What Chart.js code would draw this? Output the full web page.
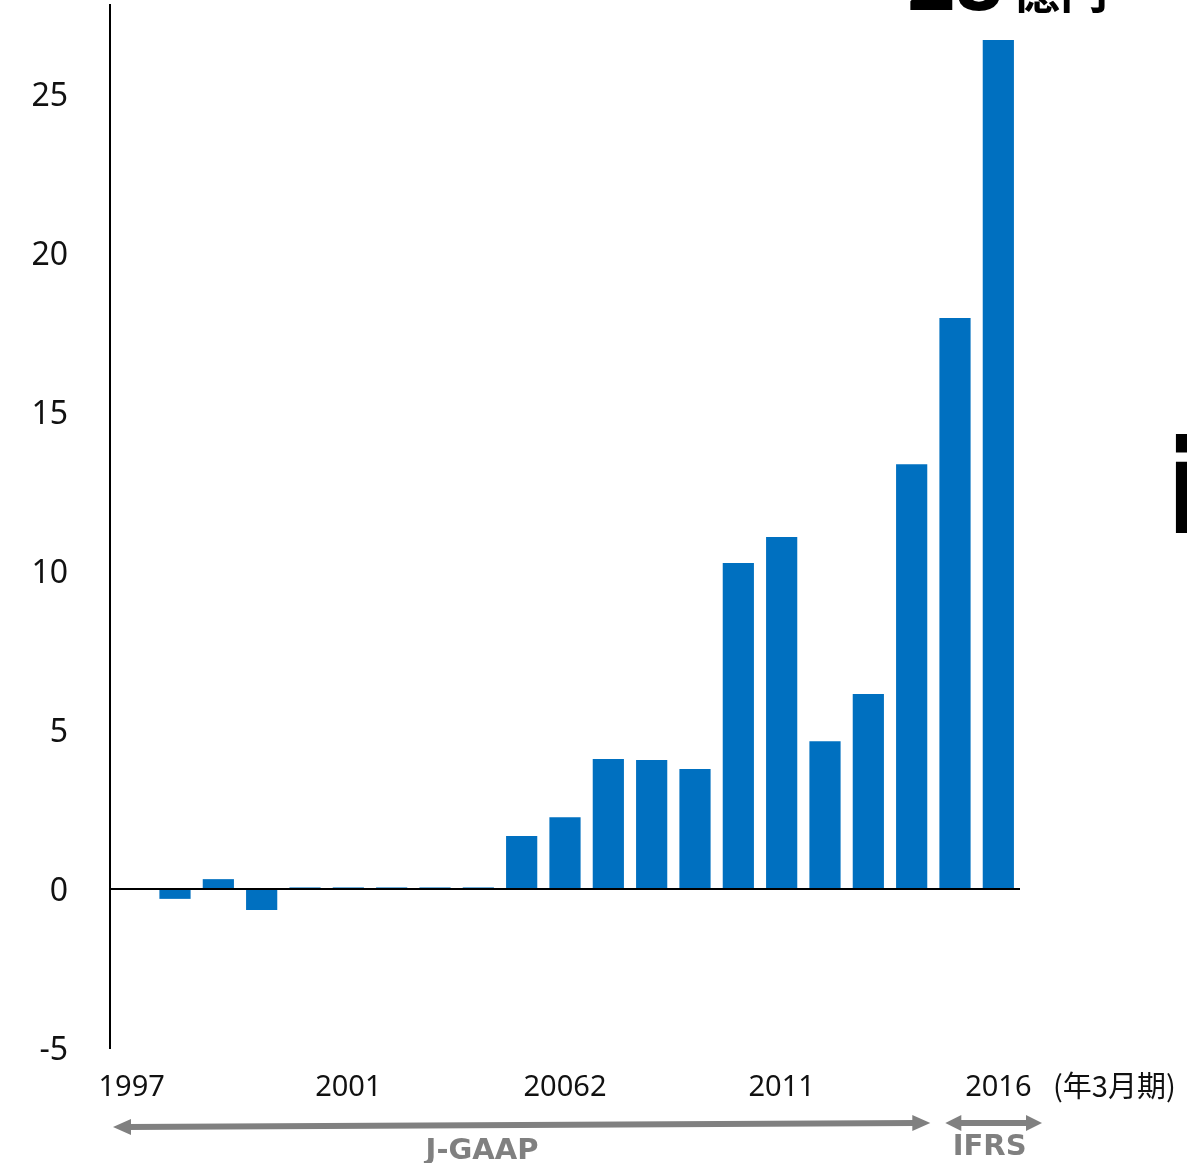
<!DOCTYPE html>
<html>
<head>
<meta charset="utf-8">
<script src="https://cdn.jsdelivr.net/npm/chart.js@4/dist/chart.umd.min.js"></script>
<style>
html,body{margin:0;padding:0;background:#fff;}
#wrap{width:1187px;height:1163px;position:relative;overflow:hidden;}
</style>
</head>
<body>
<div id="wrap"><canvas id="c" width="1187" height="1163"></canvas></div>
<script>
// ---- data ----
const categories = ["1997","","","","","2001","","","","","20062","","","","","2011","","","","","2016"];
const profit = [0, -0.31, 0.31, -0.66, 0.05, 0.05, 0.05, 0.05, 0.05, 1.67, 2.26, 4.09, 4.06, 3.77, 10.25, 11.07, 4.65, 6.13, 13.36, 17.96, 26.7];
const yMin = -5;
const yMax = 27.8;
const yStep = 5;
const unitLabel = "(年3月期)";
const periodLabels = ["J-GAAP", "IFRS"];
const headline = ["28", "億円"];

const BLUE = "#0070C0";
const GREY = "#808080";

function arrowHead(ctx, x, y, dir, len, half) {
  ctx.beginPath();
  ctx.moveTo(x, y);
  ctx.lineTo(x - dir * len, y - half);
  ctx.lineTo(x - dir * len, y + half);
  ctx.closePath();
  ctx.fill();
}

const annot = {
  id: 'annot',
  afterDraw(chart) {
    const ctx = chart.ctx;
    const xs = chart.scales.x;
    const half = (xs.getPixelForValue(1) - xs.getPixelForValue(0)) / 2;
    ctx.save();
    // unit label
    ctx.fillStyle = "#111";
    ctx.font = "29px 'Noto Sans CJK JP'";
    ctx.textBaseline = "middle";
    ctx.textAlign = "left";
    ctx.fillText(unitLabel, xs.right + 33, 1086);

    // J-GAAP arrow
    ctx.strokeStyle = GREY;
    ctx.fillStyle = GREY;
    ctx.lineWidth = 6;
    const jx1 = xs.getPixelForValue(0) - half + 3;
    const jx2 = xs.getPixelForValue(18) + half - 3;
    ctx.beginPath();
    ctx.moveTo(jx1 + 14, 1127);
    ctx.lineTo(jx2 - 14, 1123);
    ctx.stroke();
    arrowHead(ctx, jx1, 1127, -1, 18, 8);
    arrowHead(ctx, jx2, 1123, 1, 18, 8);
    // IFRS arrow
    const ix1 = xs.getPixelForValue(19) - half + 12;
    const ix2 = xs.getPixelForValue(20) + half + 22;
    ctx.beginPath();
    ctx.moveTo(ix1 + 14, 1123);
    ctx.lineTo(ix2 - 14, 1123);
    ctx.stroke();
    arrowHead(ctx, ix1, 1123, -1, 16, 8);
    arrowHead(ctx, ix2, 1123, 1, 16, 8);

    ctx.font = "bold 29px 'DejaVu Sans'";
    ctx.textAlign = "center";
    ctx.fillText(periodLabels[0], 482, 1151);
    ctx.fillText(periodLabels[1], (ix1 + ix2) / 2 - 4, 1147);

    // headline (clipped at top)
    ctx.fillStyle = "#000";
    ctx.strokeStyle = "#fff";
    ctx.lineJoin = "round";
    ctx.lineWidth = 8;
    ctx.textAlign = "left";
    ctx.textBaseline = "alphabetic";
    ctx.font = "bold 84px 'Noto Sans'";
    ctx.strokeText(headline[0], 907, 10);
    ctx.fillText(headline[0], 907, 10);
    ctx.font = "bold 48px 'Noto Sans CJK JP'";
    ctx.strokeText(headline[1], 1012, 8);
    ctx.fillText(headline[1], 1012, 8);

    // partially visible glyph at right edge
    ctx.font = "bold 130px 'DejaVu Sans'";
    ctx.strokeText("i", 1165, 533);
    ctx.fillText("i", 1165, 533);
    ctx.restore();
  }
};

new Chart(document.getElementById('c'), {
  type: 'bar',
  data: {
    labels: categories,
    datasets: [{
      data: profit,
      backgroundColor: BLUE,
      borderWidth: 0,
      barPercentage: 0.72,
      categoryPercentage: 1.0
    }]
  },
  options: {
    responsive: false,
    animation: false,
    layout: { padding: { top: 5, right: 167, left: 0, bottom: 0 } },
    plugins: { legend: { display: false }, tooltip: { enabled: false } },
    scales: {
      x: {
        grid: { display: false, drawTicks: false },
        border: { display: false },
        ticks: {
          autoSkip: false, maxRotation: 0, minRotation: 0,
          color: "#111", font: { family: "'Noto Sans'", size: 29 }, padding: 22
        },
        afterFit(s) { s.height = 115; s.paddingLeft = 0; s.paddingRight = 0; }
      },
      y: {
        min: yMin, max: yMax,
        grid: {
          drawTicks: false,
          color: (c) => (c.tick && c.tick.value === 0) ? "#000" : "rgba(0,0,0,0)",
          lineWidth: 2
        },
        border: { display: true, color: "#000", width: 2 },
        ticks: {
          stepSize: yStep, color: "#111", labelOffset: 3,
          font: { family: "'Noto Sans'", size: 32 }, padding: 42
        },
        afterBuildTicks(s) { s.ticks = s.ticks.filter(t => Math.abs(t.value % yStep) < 1e-9); },
        afterFit(s) { s.width = 110; s.paddingTop = 0; s.paddingBottom = 0; }
      }
    }
  },
  plugins: [annot]
});
</script>
</body>
</html>
